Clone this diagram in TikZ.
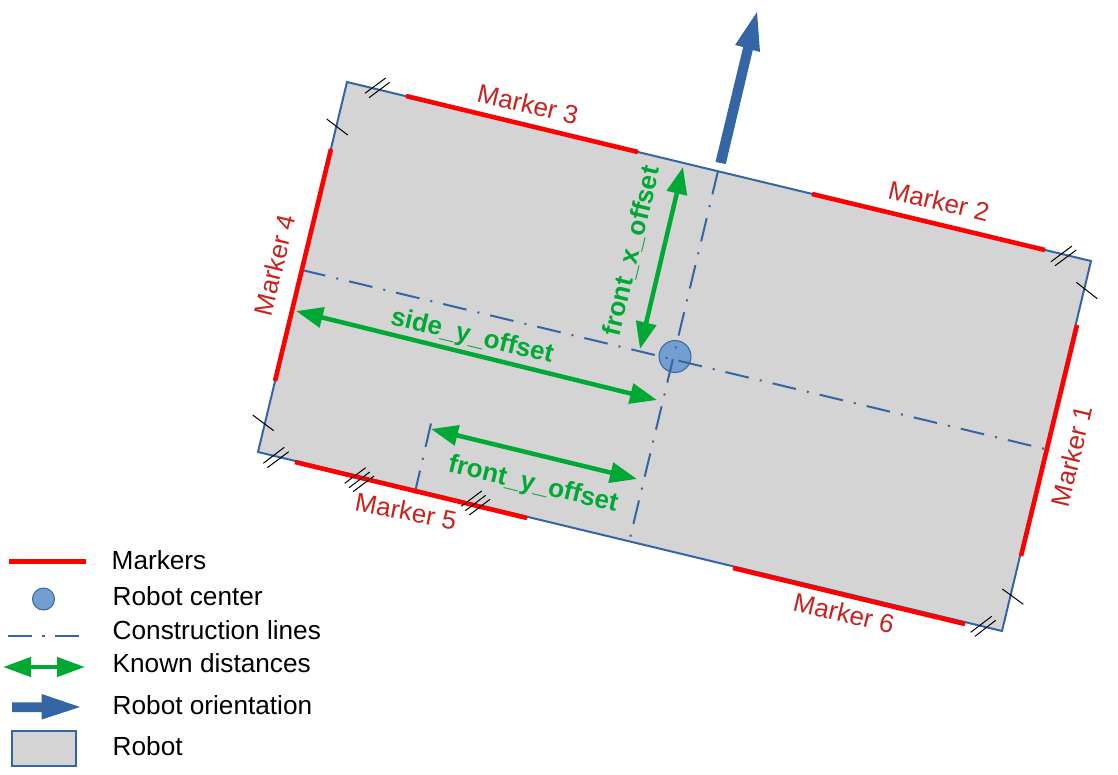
\documentclass[tikz,border=0pt]{standalone}
\usepackage{fontspec}
\setmainfont{Liberation Sans}
\usetikzlibrary{arrows.meta}
\definecolor{robotblue}{HTML}{3465A4}
\definecolor{centerblue}{HTML}{729FCF}
\definecolor{robotgrey}{HTML}{D4D4D4}
\definecolor{knowngreen}{HTML}{00A933}
\definecolor{labelred}{HTML}{C9211E}
\tikzset{
  x=1pt,y=-1pt,
  robotbody/.style={draw=robotblue,fill=robotgrey,line width=2pt,line join=miter},
  markerline/.style={draw=red,line width=4.6pt},
  constr/.style={draw=robotblue,line width=2pt,dash pattern=on 24pt off 11.2pt on 2pt off 11.2pt},
  known/.style={draw=knowngreen,line width=4.5pt,{Triangle[length=27pt,width=20pt]}-{Triangle[length=27pt,width=20pt]},shorten >=0pt,shorten <=0pt},
  tick/.style={draw=black,line width=1pt},
  centerdot/.style={draw=robotblue,fill=centerblue,line width=1pt,circle,inner sep=0pt,minimum size=#1},
  orient/.style={fill=robotblue,draw=none},
  mlabel/.style={text=labelred,font=\fontsize{26}{30}\selectfont,inner sep=0pt},
  glabel/.style={text=knowngreen,font=\fontsize{26}{30}\selectfont\bfseries,inner sep=0pt},
  legendtext/.style={text=black,font=\fontsize{26.2}{30}\selectfont,inner sep=0pt,anchor=base west},
}
\begin{document}
\begin{tikzpicture}
\useasboundingbox (0,0) rectangle (1118,774);
% body
\coordinate (A) at (347,82);
\coordinate (B) at (1091,261);
\coordinate (C) at (1002,631);
\coordinate (D) at (258,452);
\draw[robotbody] (A) -- (B) -- (C) -- (D) -- cycle;
% construction lines
\coordinate (h1) at (302,270);
\coordinate (h2) at (1045,449);
\coordinate (v1) at (718,171);
\coordinate (v2) at (630,538);
\coordinate (s1) at (431,423.5);
\coordinate (s2) at (414.7,493.5);
\draw[constr] (h1) -- (h2);
\draw[constr] (v1) -- (v2);
\draw[constr] (s1) -- (s2);
% centre (the lines show through it)
\node[centerdot=32pt] (center) at (675,356.5) {};
\begin{scope}
\clip (center) circle (16pt);
\draw[constr] (h1) -- (h2);
\draw[constr] (v1) -- (v2);
\end{scope}
% markers
\coordinate (m3a) at (406,96);   \coordinate (m3b) at (638,152);
\coordinate (m2a) at (812,194);  \coordinate (m2b) at (1045,250);
\coordinate (m1a) at (1077,325); \coordinate (m1b) at (1021,556);
\coordinate (m6a) at (733,568);  \coordinate (m6b) at (965,624);
\coordinate (m5a) at (295,462);  \coordinate (m5b) at (527,518);
\coordinate (m4a) at (331,149);  \coordinate (m4b) at (275,381);
\draw[markerline] (m3a) -- (m3b);
\draw[markerline] (m2a) -- (m2b);
\draw[markerline] (m1a) -- (m1b);
\draw[markerline] (m6a) -- (m6b);
\draw[markerline] (m5a) -- (m5b);
\draw[markerline] (m4a) -- (m4b);
% ticks
\draw[tick] (326.7,119) -- (347.7,135);
\draw[tick] (365,93.3) -- (385.7,78);
\draw[tick] (369,97.7) -- (389.7,82.3);
\draw[tick] (252.7,415) -- (273.7,430.7);
\draw[tick] (263.3,463.3) -- (284.3,447.3);
\draw[tick] (267.3,467.7) -- (288.7,451.7);
\draw[tick] (344.7,483.3) -- (365.7,467.7);
\draw[tick] (349,487.7) -- (369.7,472);
\draw[tick] (353,491.7) -- (374,476);
\draw[tick] (461.3,506.3) -- (481.7,491);
\draw[tick] (465.3,510.7) -- (485.7,495.3);
\draw[tick] (469.3,515) -- (490,499.3);
\draw[tick] (1051,261.7) -- (1072,246);
\draw[tick] (1055,265.7) -- (1076.3,250);
\draw[tick] (1076.3,282.3) -- (1097.3,298.7);
\draw[tick] (1002.3,589) -- (1023.3,604.3);
\draw[tick] (970.7,632.3) -- (991.7,616.3);
\draw[tick] (975,636.3) -- (995.7,620.3);
% known distances
\coordinate (fx1) at (683,167);  \coordinate (fx2) at (640,349);
\coordinate (sy1) at (296,311);  \coordinate (sy2) at (657,400);
\coordinate (fy1) at (431,429);  \coordinate (fy2) at (637,479);
\draw[known] (fx1) -- (fx2);
\draw[known] (sy1) -- (sy2);
\draw[known] (fy1) -- (fy2);
% orientation arrow
\fill[orient] (715.5,162) -- (743.2,47) -- (735,45) -- (757,12) -- (760,52) -- (752.8,50) -- (725.8,164) -- cycle;
% labels
\node[mlabel,rotate=-13.5] (l3) at (528,104) {Marker 3};
\node[mlabel,rotate=-13.5] (l2) at (939,201) {Marker 2};
\node[mlabel,rotate=76.5] (l1) at (1071.5,456) {Marker 1};
\node[mlabel,rotate=76.5] (l4) at (274.5,265) {Marker 4};
\node[mlabel,rotate=-11] (l5) at (406,511) {Marker 5};
\node[mlabel,rotate=-13.5] (l6) at (844,613) {Marker 6};
\node[glabel,rotate=-13.5] (gs) at (472,337) {side\_y\_offset};
\node[glabel,rotate=-13.5] (gf) at (533,485) {front\_y\_offset};
\node[glabel,rotate=76.5] (gx) at (632,251) {front\_x\_offset};
% legend
\coordinate (lm1) at (9,561.5); \coordinate (lm2) at (86,561.5);
\draw[markerline] (lm1) -- (lm2);
\node[centerdot=22pt] (lc) at (43.5,599) {};
\coordinate (lk1) at (8,636); \coordinate (lk2) at (81,636);
\draw[constr,dash pattern=on 24pt off 10pt on 3pt off 10pt] (lk1) -- (lk2);
\coordinate (ld1) at (3,667); \coordinate (ld2) at (85,667);
\draw[known,{Triangle[length=28pt,width=19pt]}-{Triangle[length=28pt,width=19pt]}] (ld1) -- (ld2);
\fill[orient] (12,702.3) -- (41.7,702.3) -- (41.7,694) -- (80,707) -- (41.7,719.5) -- (41.7,712.2) -- (12,712.2) -- cycle;
\draw[robotbody] (11.5,731) rectangle (75.5,766);
\node[legendtext] (t1) at (111.5,569) {Markers};
\node[legendtext] (t2) at (112.5,605) {Robot center};
\node[legendtext] (t3) at (112.5,639) {Construction lines};
\node[legendtext] (t4) at (112.5,672) {Known distances};
\node[legendtext] (t5) at (112.5,714) {Robot orientation};
\node[legendtext] (t6) at (112.5,755) {Robot};
\end{tikzpicture}
\end{document}
